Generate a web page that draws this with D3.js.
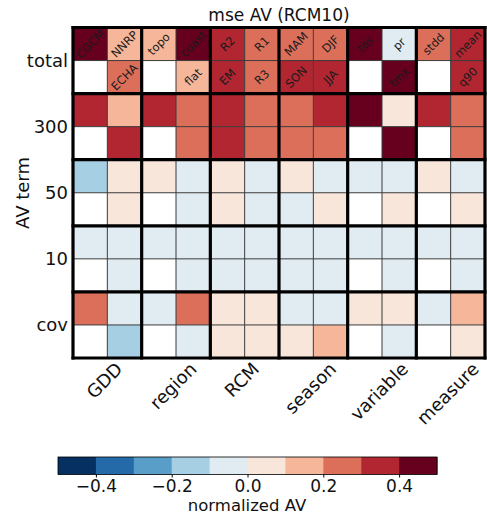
<!DOCTYPE html>
<html>
<head>
<meta charset="utf-8">
<script src="https://cdn.jsdelivr.net/npm/d3@7"></script>
<style>
  html, body { margin: 0; padding: 0; background: #fff; }
  svg { display: block; font-family: "DejaVu Sans", sans-serif; }
</style>
</head>
<body>
<svg id="chart" width="487" height="518"></svg>
<script>
// Factor groups along x (two columns each) and AV terms along y (two rows each)
const groups = ["GDD", "region", "RCM", "season", "variable", "measure"];
const terms = ["total", "300", "50", "10", "cov"];

// Level names written in the "total" block (upper and lower row)
const levelsTop = ["CGCM", "NNRP", "topo", "coast", "R2", "R1", "MAM", "DJF", "tas", "pr", "stdd", "mean"];
const levelsBottom = [null, "ECHA", null, "flat", "EM", "R3", "SON", "JJA", null, "tmx", null, "q90"];

// Normalized AV per term: two rows of 12 cells each (null = no level)
const avTotal = [
  [0.45, 0.15, 0.17, 0.45, 0.35, 0.25, 0.22, 0.26, 0.45, -0.05, 0.22, 0.35],
  [null, 0.25, null, 0.15, 0.35, 0.25, 0.32, 0.35, null, 0.45, null, 0.35]
];
const av300 = [
  [0.35, 0.12, 0.35, 0.22, 0.35, 0.22, 0.22, 0.32, 0.45, 0.05, 0.33, 0.22],
  [null, 0.35, null, 0.22, 0.33, 0.22, 0.22, 0.25, null, 0.45, null, 0.22]
];
const av50 = [
  [-0.15, 0.05, 0.03, -0.05, 0.04, -0.04, 0.03, -0.03, -0.03, -0.04, 0.03, -0.04],
  [null, 0.05, null, -0.05, 0.04, -0.05, -0.03, 0.06, null, 0.04, null, 0.04]
];
const av10 = [
  [-0.05, -0.05, -0.05, -0.05, -0.05, -0.05, -0.05, -0.05, -0.04, -0.05, -0.05, -0.05],
  [null, -0.05, null, -0.05, -0.05, -0.05, -0.05, -0.05, null, -0.05, null, -0.05]
];
const avCov = [
  [0.25, -0.05, -0.03, 0.25, 0.05, 0.05, -0.04, -0.04, 0.04, 0.05, -0.03, 0.15],
  [null, -0.15, null, -0.05, 0.05, 0.05, 0.05, 0.13, null, -0.05, null, 0.04]
];

const colorTicks = [-0.4, -0.2, 0.0, 0.2, 0.4];

const termRows = [avTotal, av300, av50, av10, avCov];

const svg = d3.select("#chart");

const nCols = groups.length * 2;
const nRows = terms.length * 2;

const x = d3.scaleBand().domain(d3.range(nCols)).range([73, 485]);
const y = d3.scaleBand().domain(d3.range(nRows)).range([27.5, 358]);
const xg = d3.scaleBand().domain(groups).range([73, 485]);
const yg = d3.scaleBand().domain(terms).range([27.5, 358]);

// Discrete diverging palette (10 bins over -0.5..0.5)
const palette = d3.quantize(t => d3.interpolateRdBu(1 - t), 10);
const color = d3.scaleQuantize().domain([-0.5, 0.5]).range(palette);

// Flatten to cell records
const cells = [];
termRows.forEach((rows, ti) => {
  rows.forEach((row, ri) => {
    row.forEach((v, ci) => {
      cells.push({ r: ti * 2 + ri, c: ci, v: v });
    });
  });
});

svg.append("g").selectAll("rect")
  .data(cells)
  .join("rect")
  .attr("x", d => x(d.c))
  .attr("y", d => y(d.r))
  .attr("width", x.bandwidth())
  .attr("height", y.bandwidth())
  .attr("fill", d => d.v == null ? "#ffffff" : color(d.v));

// Level labels in the total block, written diagonally across each cell
const labelData = [];
levelsTop.forEach((t, c) => { if (t) labelData.push({ r: 0, c, t }); });
levelsBottom.forEach((t, c) => { if (t) labelData.push({ r: 1, c, t }); });

const lg = svg.append("g");
labelData.forEach(d => {
  const cx = x(d.c) + x.bandwidth() / 2;
  const cy = y(d.r) + y.bandwidth() / 2;
  lg.append("g")
    .attr("transform", `translate(${cx},${cy}) rotate(-45)`)
    .append("text")
    .attr("x", 0)
    .attr("y", 4)
    .attr("text-anchor", "middle")
    .style("font-size", "11.5px")
    .attr("fill", "#1a1a1a")
    .text(d.t);
});

// Thin cell lines
const thin = svg.append("g").attr("stroke", "#3a3a3a").attr("stroke-width", 1);
d3.range(1, nCols).filter(i => i % 2).forEach(i => {
  thin.append("line").attr("x1", x(i)).attr("x2", x(i)).attr("y1", 27.5).attr("y2", 358);
});
d3.range(1, nRows).filter(i => i % 2).forEach(i => {
  thin.append("line").attr("y1", y(i)).attr("y2", y(i)).attr("x1", 73).attr("x2", 485);
});

// Thick group lines and outer frame
const thick = svg.append("g").attr("stroke", "#000").attr("stroke-width", 3.2);
d3.range(0, groups.length + 1).forEach(i => {
  const xx = i < groups.length ? xg(groups[i]) : 485;
  thick.append("line").attr("x1", xx).attr("x2", xx).attr("y1", 26).attr("y2", 359.5);
});
d3.range(0, terms.length + 1).forEach(i => {
  const yy = i < terms.length ? yg(terms[i]) : 358;
  thick.append("line").attr("y1", yy).attr("y2", yy).attr("x1", 71.5).attr("x2", 486.5);
});

// Title
svg.append("text")
  .attr("x", 279).attr("y", 21)
  .attr("text-anchor", "middle")
  .attr("font-size", 17)
  .attr("fill", "#111")
  .text("mse AV (RCM10)");

// Y tick labels
svg.append("g").selectAll("text")
  .data(terms)
  .join("text")
  .attr("x", 68)
  .attr("y", d => yg(d) + yg.bandwidth() / 2)
  .attr("text-anchor", "end")
  .attr("dominant-baseline", "central")
  .attr("font-size", 18)
  .attr("fill", "#111")
  .text(d => d);

// Y axis title
svg.append("text")
  .attr("transform", "translate(22,193) rotate(-90)")
  .attr("text-anchor", "middle")
  .attr("dominant-baseline", "central")
  .attr("font-size", 18)
  .attr("fill", "#111")
  .text("AV term");

// X tick labels, rotated 45 degrees and centred under each group
const xl = svg.append("g");
groups.forEach(gname => {
  const cx = xg(gname) + xg.bandwidth() / 2 - 3;
  const t = xl.append("text")
    .attr("text-anchor", "middle")
    .attr("dominant-baseline", "central")
    .attr("font-size", 18)
    .attr("fill", "#111")
    .text(gname);
  const L = t.node().getComputedTextLength();
  const D = (L + 13) * Math.SQRT1_2;
  t.attr("transform", `translate(${cx},${361 + D / 2}) rotate(-45)`);
});

// Colorbar
const cb = d3.scaleLinear().domain([-0.5, 0.5]).range([58, 437]);
const bins = d3.range(10).map(i => -0.5 + i * 0.1);
const cbg = svg.append("g");
cbg.selectAll("rect")
  .data(bins)
  .join("rect")
  .attr("x", d => cb(d))
  .attr("y", 457)
  .attr("width", d => cb(d + 0.1) - cb(d) + 0.5)
  .attr("height", 17.5)
  .attr("fill", d => color(d + 0.05));
cbg.append("rect")
  .attr("x", 58).attr("y", 457).attr("width", 379).attr("height", 17.5)
  .attr("fill", "none").attr("stroke", "#000").attr("stroke-width", 0.8);

const cbAxis = d3.axisBottom(cb)
  .tickValues(colorTicks)
  .tickSize(3)
  .tickPadding(2)
  .tickFormat(d => d3.format(".1f")(d).replace("-", "\u2212"));
const ax = svg.append("g").attr("transform", "translate(0,474.5)").call(cbAxis);
ax.select(".domain").remove();
ax.selectAll("text").attr("font-size", 17).attr("font-family", "DejaVu Sans, sans-serif").attr("fill", "#111");

svg.append("text")
  .attr("x", 247).attr("y", 511)
  .attr("text-anchor", "middle")
  .attr("font-size", 16.5)
  .attr("fill", "#111")
  .text("normalized AV");
</script>
</body>
</html>
